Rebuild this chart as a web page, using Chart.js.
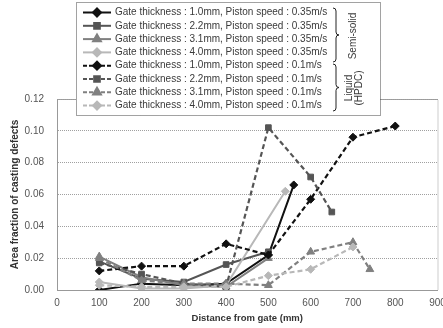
<!DOCTYPE html>
<html lang="en">
<head>
<meta charset="UTF-8">
<title>Area fraction of casting defects</title>
<style>
body { margin: 0; background: #fff; }
#wrap { width: 443px; height: 328px; }
</style>
</head>
<body>
<div id="wrap"><canvas id="chart" width="443" height="328"></canvas></div>
<script src="https://cdn.jsdelivr.net/npm/chart.js"></script>
<script>
// semi-solid, piston speed 0.35 m/s
const ss10x = [100, 200, 300, 400, 500, 560];
const ss10y = [0.000, 0.004, 0.003, 0.004, 0.022, 0.066];
const ss22x = [100, 200, 300, 400, 500];
const ss22y = [0.018, 0.007, 0.005, 0.016, 0.024];
const ss31x = [100, 200, 300, 400, 500];
const ss31y = [0.021, 0.008, 0.003, 0.002, 0.020];
const ss40x = [100, 200, 300, 400, 540];
const ss40y = [0.005, 0.001, 0.001, 0.003, 0.062];

// liquid (HPDC), piston speed 0.1 m/s
const lq10x = [100, 200, 300, 400, 500, 600, 700, 800];
const lq10y = [0.012, 0.015, 0.015, 0.029, 0.022, 0.057, 0.096, 0.103];
const lq22x = [100, 200, 300, 400, 500, 600, 650];
const lq22y = [0.017, 0.010, 0.004, 0.002, 0.102, 0.071, 0.049];
const lq31x = [100, 200, 300, 400, 500, 600, 700, 740];
const lq31y = [0.020, 0.006, 0.004, 0.004, 0.003, 0.024, 0.030, 0.013];
const lq40x = [100, 200, 300, 400, 500, 600, 700];
const lq40y = [0.003, 0.002, 0.002, 0.002, 0.009, 0.013, 0.027];

const labels = [
  'Gate thickness : 1.0mm, Piston speed : 0.35m/s',
  'Gate thickness : 2.2mm, Piston speed : 0.35m/s',
  'Gate thickness : 3.1mm, Piston speed : 0.35m/s',
  'Gate thickness : 4.0mm, Piston speed : 0.35m/s',
  'Gate thickness : 1.0mm, Piston speed : 0.1m/s',
  'Gate thickness : 2.2mm, Piston speed : 0.1m/s',
  'Gate thickness : 3.1mm, Piston speed : 0.1m/s',
  'Gate thickness : 4.0mm, Piston speed : 0.1m/s'
];

const FONT = "'Liberation Sans', Arial, sans-serif";
const colors = ['#111111', '#555555', '#808080', '#b8b8b8'];
const shapes = ['rectRot', 'rect', 'triangle', 'rectRot'];
const sizes = [4, 4, 4.5, 4];

function pts(xs, ys) {
  return xs.map((x, i) => ({ x: x, y: ys[i] }));
}

const series = [
  [ss10x, ss10y], [ss22x, ss22y], [ss31x, ss31y], [ss40x, ss40y],
  [lq10x, lq10y], [lq22x, lq22y], [lq31x, lq31y], [lq40x, lq40y]
];

const datasets = series.map((s, i) => {
  const k = i % 4;
  const dashed = i >= 4;
  return {
    label: labels[i],
    data: pts(s[0], s[1]),
    borderColor: colors[k],
    backgroundColor: colors[k],
    borderWidth: dashed ? 2.2 : 2,
    borderDash: dashed ? [5, 3] : [],
    pointStyle: shapes[k],
    pointRadius: sizes[k],
    pointBorderWidth: 1,
    showLine: true,
    fill: false,
    tension: 0
  };
}).reverse(); // liquid drawn first, semi-solid on top

// legend box with braces, drawn on the canvas
const legendBox = {
  id: 'legendBox',
  afterDraw(chart) {
    const ctx = chart.ctx;
    ctx.save();
    // dotted plot frame (top and right)
    const a = chart.chartArea;
    ctx.strokeStyle = '#9a9a9a';
    ctx.lineWidth = 1;
    ctx.setLineDash([1, 1]);
    ctx.beginPath();
    ctx.moveTo(a.left, a.top + 0.5);
    ctx.lineTo(a.right + 0.5, a.top + 0.5);
    ctx.lineTo(a.right + 0.5, a.bottom);
    ctx.stroke();

    const bx = 76, by = 2, bw = 304, bh = 113;
    ctx.fillStyle = '#fff';
    ctx.fillRect(bx, by, bw, bh);
    ctx.strokeStyle = '#444';
    ctx.strokeRect(bx + 0.5, by + 0.5, bw, bh);
    ctx.setLineDash([]);

    const rowH = 13.3, y0 = 12.5;
    ctx.font = '10px ' + FONT;
    ctx.textBaseline = 'middle';
    for (let i = 0; i < 8; i++) {
      const k = i % 4;
      const y = y0 + i * rowH;
      ctx.strokeStyle = colors[k];
      ctx.lineWidth = 2;
      ctx.setLineDash(i >= 4 ? [4, 2] : []);
      ctx.beginPath();
      ctx.moveTo(83, y);
      ctx.lineTo(111, y);
      ctx.stroke();
      ctx.setLineDash([]);
      ctx.fillStyle = colors[k];
      ctx.strokeStyle = colors[k];
      Chart.helpers.drawPoint(ctx, {
        pointStyle: shapes[k], radius: sizes[k], borderWidth: 1, rotation: 0
      }, 97, y);
      ctx.fillStyle = '#3a3a3a';
      ctx.textAlign = 'left';
      ctx.fillText(labels[i], 115, y);
    }

    function brace(x, top, bot) {
      const mid = (top + bot) / 2;
      ctx.strokeStyle = '#222';
      ctx.lineWidth = 1;
      ctx.beginPath();
      ctx.moveTo(x - 3, top);
      ctx.quadraticCurveTo(x, top, x, top + 3);
      ctx.lineTo(x, mid - 3);
      ctx.quadraticCurveTo(x, mid, x + 3, mid);
      ctx.quadraticCurveTo(x, mid, x, mid + 3);
      ctx.lineTo(x, bot - 3);
      ctx.quadraticCurveTo(x, bot, x - 3, bot);
      ctx.stroke();
    }
    brace(336, 8, 62);
    brace(336, 64, 111);

    ctx.fillStyle = '#3a3a3a';
    ctx.font = '10px ' + FONT;
    ctx.textAlign = 'center';
    ctx.textBaseline = 'middle';
    ctx.save();
    ctx.translate(353, 36);
    ctx.rotate(-Math.PI / 2);
    ctx.fillText('Semi-solid', 0, 0);
    ctx.restore();
    ctx.save();
    ctx.translate(349, 88);
    ctx.rotate(-Math.PI / 2);
    ctx.fillText('Liquid', 0, 0);
    ctx.fillText('(HPDC)', 0, 10);
    ctx.restore();
    ctx.restore();
  }
};

new Chart(document.getElementById('chart'), {
  type: 'scatter',
  data: { datasets: datasets },
  options: {
    responsive: false,
    animation: false,
    layout: { padding: { top: 99, right: 5, left: 5, bottom: 0 } },
    plugins: {
      legend: { display: false },
      tooltip: { enabled: false }
    },
    scales: {
      x: {
        type: 'linear',
        min: 0,
        max: 900,
        ticks: { stepSize: 100, color: '#555', font: { family: FONT, size: 10 }, padding: 7 },
        grid: { display: true, drawOnChartArea: false, drawTicks: false },
        border: { color: '#999', dash: [1, 1] },
        title: { display: true, text: 'Distance from gate (mm)', color: '#333',
                 font: { family: FONT, size: 9.5, weight: 'bold' }, padding: { top: 3 } },
        afterFit(s) { s.height = 38; s.paddingRight = 0; s.paddingLeft = 0; }
      },
      y: {
        min: 0,
        max: 0.12,
        ticks: { stepSize: 0.02, color: '#555', font: { family: FONT, size: 10 }, padding: 13,
                 callback: v => v.toFixed(2) },
        grid: { color: '#a0a0a0', drawTicks: false },
        border: { color: '#999', dash: [1, 1] },
        title: { display: true, text: 'Area fraction of casting defects', color: '#333',
                 font: { family: FONT, size: 10, weight: 'bold' }, padding: { bottom: 2 } },
        afterFit(s) { s.width = 52; s.paddingTop = 0; s.paddingBottom = 0; }
      }
    }
  },
  plugins: [legendBox]
});
</script>
</body>
</html>
